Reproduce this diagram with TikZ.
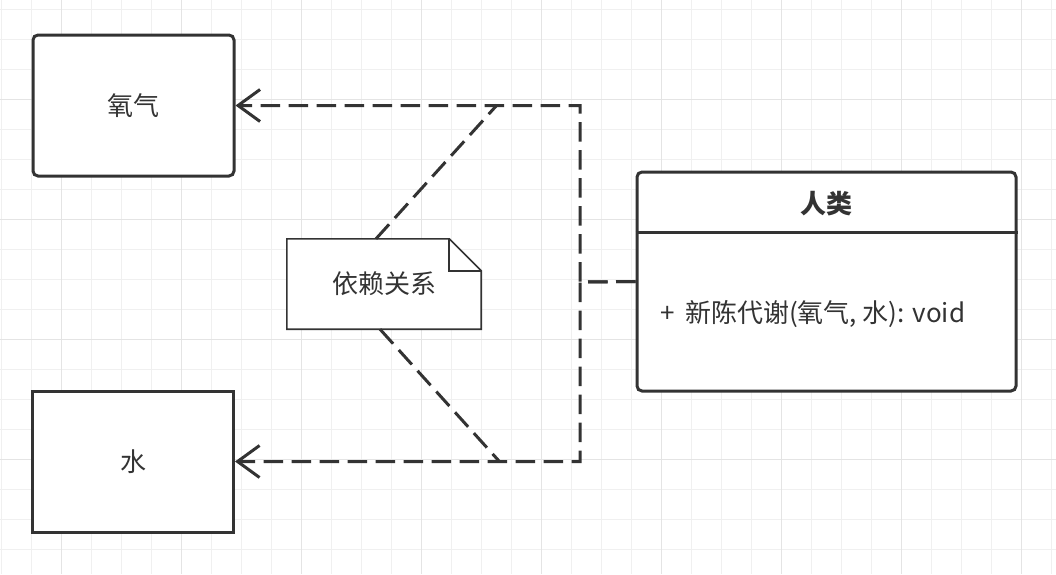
\documentclass[tikz,border=0pt]{standalone}
\usepackage{fontspec}
\newfontfamily\cjk{Noto Sans CJK SC}
\usetikzlibrary{arrows.meta,calc,positioning}
\definecolor{ink}{HTML}{333333}
\definecolor{gridminor}{HTML}{F0F0F0}
\definecolor{gridmajor}{HTML}{E4E4E4}
\newcommand{\txt}{\cjk\fontsize{26}{30}\selectfont}
\tikzset{
  entity/.style={draw=ink,line width=3pt,fill=white,inner sep=0pt,
    minimum width=201pt,minimum height=141pt,text=ink,font=\txt},
  classbox/.style={entity,rounded corners=5pt,minimum width=379pt,minimum height=219pt},
  dep/.style={draw=ink,line width=3pt,dash pattern=on 19.5pt off 8.5pt},
  deparrow/.style={dep,-{Straight Barb[length=22pt,width=32pt]}},
  notebox/.style={inner sep=0pt,minimum width=194pt,minimum height=90pt,text=ink,font=\txt},
}

\begin{document}
\begin{tikzpicture}[x=1pt,y=-1pt]
  \useasboundingbox (0,0) rectangle (1056,574);
  \fill[white] (0,0) rectangle (1056,574);
  % background grid
  \foreach \i in {0,...,35}{\draw[gridminor,line width=1pt] (1+30*\i,0) -- (1+30*\i,574);}
  \foreach \j in {0,...,18}{\draw[gridminor,line width=1pt] (0,9+30*\j) -- (1056,9+30*\j);}
  \foreach \i in {0,...,8}{\draw[gridmajor,line width=1pt] (61+120*\i,0) -- (61+120*\i,574);}
  \foreach \j in {0,...,4}{\draw[gridmajor,line width=1pt] (0,99+120*\j) -- (1056,99+120*\j);}

  % classes
  \node[entity,rounded corners=5pt] (oxygen) at (133.5,105.5) {氧气};
  \node[entity] (water) at (133,461.5) {水};
  \node[classbox] (human) at (826.5,281.5) {};
  \draw[ink,line width=3pt] (human.west |- 0,232) -- (human.east |- 0,232);
  \node[text=ink,font=\txt\bfseries] (title) at (826.5,204) {人类};
  \node[text=ink,font=\txt,anchor=west,inner sep=0pt] (method) at (660,314)
    {+\hspace{0.4em}新陈代谢(氧气, 水): void};

  % note
  \node[notebox] (note) at (384,284) {};
  \draw[ink,line width=1.6pt,fill=white]
    (note.north west) -- ($(note.north east)+(-32,0)$) -- ($(note.north east)+(0,32)$)
    -- (note.south east) -- (note.south west) -- cycle;
  \draw[ink,line width=1.6pt]
    ($(note.north east)+(-32,0)$) -- ($(note.north east)+(-32,32)$) -- ($(note.north east)+(0,32)$);
  \node[text=ink,font=\txt] (notetext) at (note.center) {依赖关系};

  % dependencies
  \coordinate (split) at (580,282);
  \coordinate (upjoin) at (497,105);
  \coordinate (downjoin) at (499,461);
  \draw[deparrow] (human.west) -- (split) |- (oxygen.east);
  \draw[deparrow] (human.west) -- (split) |- (water.east);
  \draw[dep] ([xshift=-8pt]note.north) -- (upjoin);
  \draw[dep] ([xshift=-4pt]note.south) -- (downjoin);
\end{tikzpicture}
\end{document}
